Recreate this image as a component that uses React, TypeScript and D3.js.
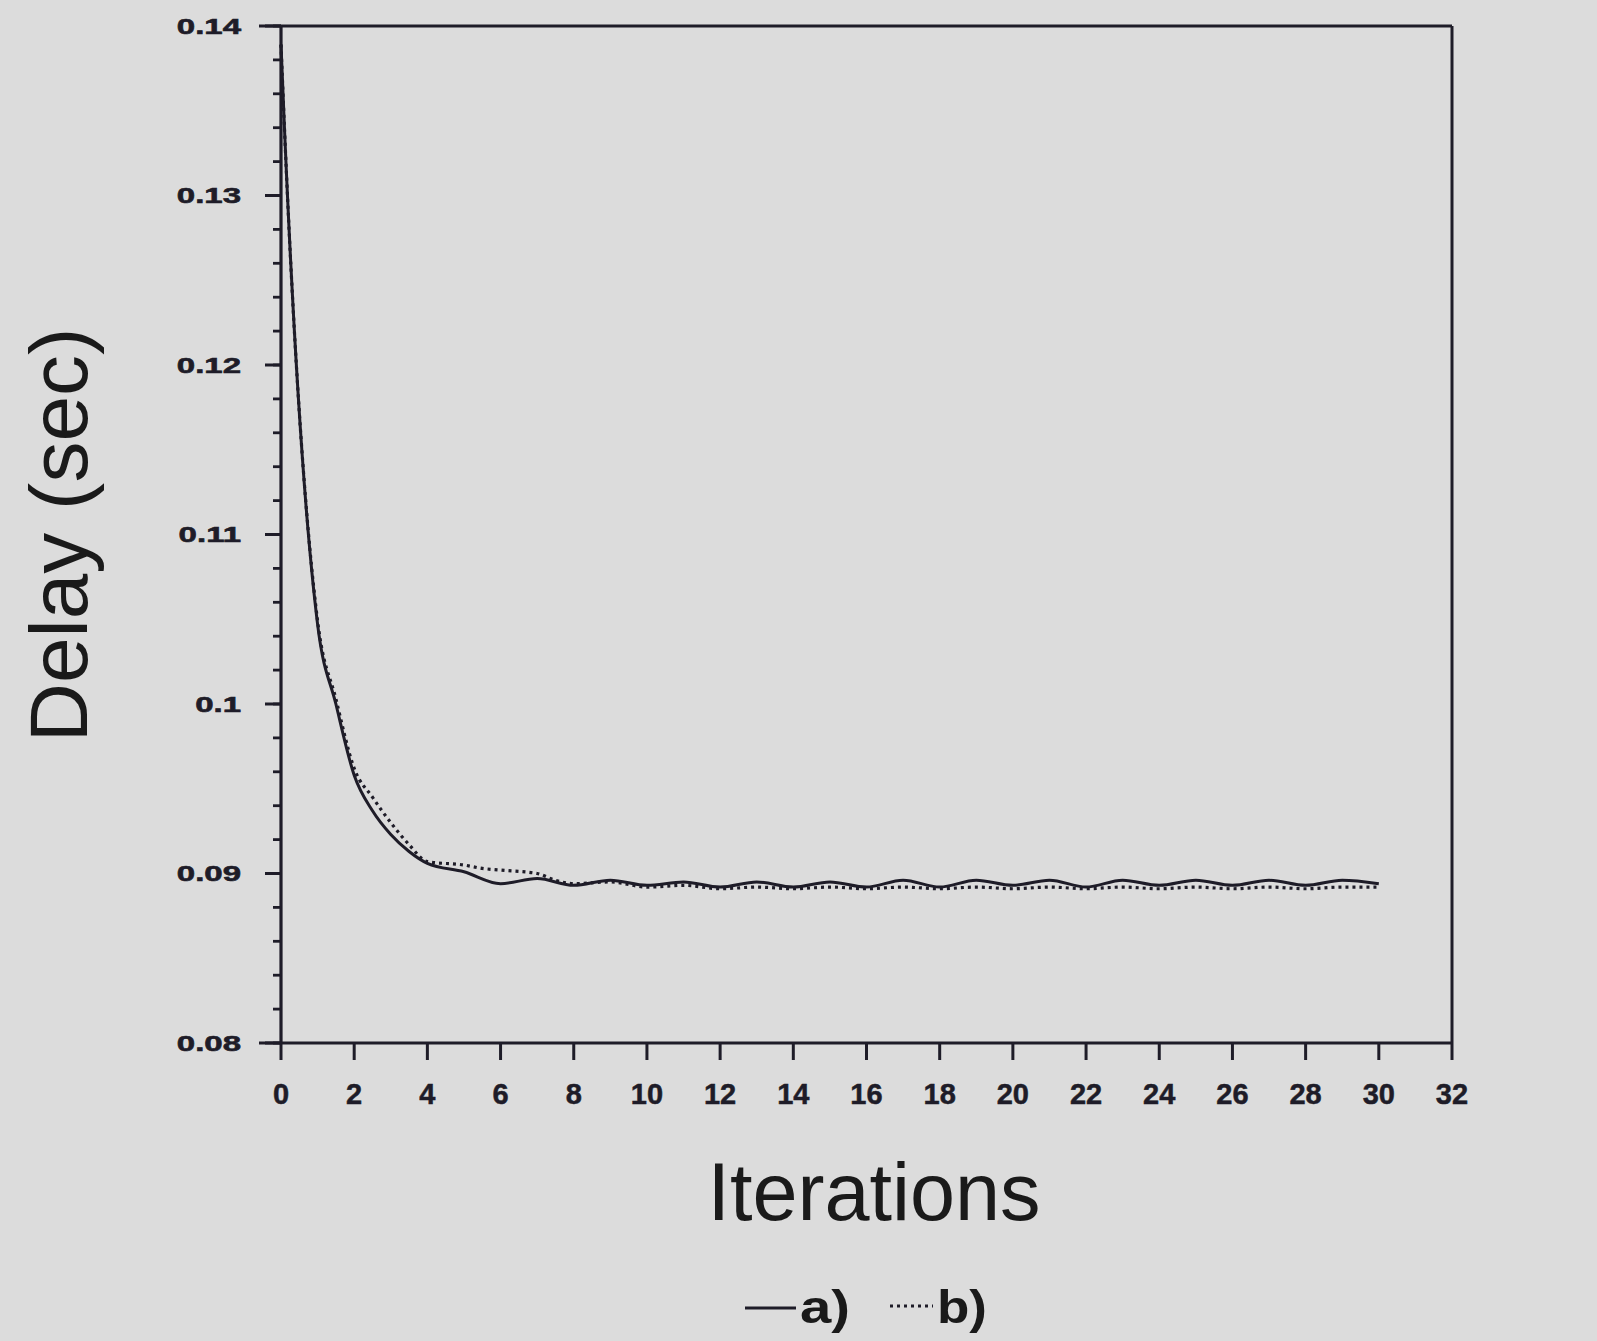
import React from 'react';
import * as d3 from 'd3';

// Series a) solid
const iterA = [0, 0.1, 1, 1.5, 2, 2.5, 3, 3.5, 4, 5, 6, 7, 8, 9, 10, 11, 12, 13, 14, 15, 16, 17, 18, 19, 20, 21, 22, 23, 24, 25, 26, 27, 28, 29, 30];
const delayA = [0.1389, 0.1337, 0.1047, 0.1, 0.0958, 0.0937, 0.0923, 0.0913, 0.0906, 0.0901, 0.0894, 0.0897, 0.0893, 0.0896, 0.0893, 0.0895, 0.0892, 0.0895, 0.0892, 0.0895, 0.0892, 0.0896, 0.0892, 0.0896, 0.0893, 0.0896, 0.0892, 0.0896, 0.0893, 0.0896, 0.0893, 0.0896, 0.0893, 0.0896, 0.0894];

// Series b) dotted
const iterB = [0, 0.1, 1, 1.5, 2, 2.5, 3, 3.5, 4, 5, 5.5, 6, 7, 7.5, 8, 9, 10, 11, 12, 13, 14, 15, 16, 17, 18, 19, 20, 21, 22, 23, 24, 25, 26, 27, 28, 29, 30];
const delayB = [0.1389, 0.1337, 0.1049, 0.1003, 0.0962, 0.0945, 0.093, 0.0917, 0.0907, 0.0905, 0.0903, 0.0902, 0.09, 0.0896, 0.0894, 0.0895, 0.0892, 0.0893, 0.0891, 0.0892, 0.0891, 0.0892, 0.0891, 0.0892, 0.0891, 0.0892, 0.0891, 0.0892, 0.0891, 0.0892, 0.0891, 0.0892, 0.0891, 0.0892, 0.0891, 0.0892, 0.0892];

const xTickValues = [0, 2, 4, 6, 8, 10, 12, 14, 16, 18, 20, 22, 24, 26, 28, 30, 32];
const yTickValues = [0.08, 0.09, 0.1, 0.11, 0.12, 0.13, 0.14];
const yTickLabels = ['0.08', '0.09', '0.1', '0.11', '0.12', '0.13', '0.14'];
const legendLabels = ['a)', 'b)'];

const W = 1597;
const H = 1341;
const INK = '#1e1c28';
const BG = '#dcdcdc';

export default function App() {
  const x = d3.scaleLinear().domain([0, 32]).range([281, 1452]);
  const y = d3.scaleLinear().domain([0.08, 0.14]).range([1043, 26]);

  const line = d3
    .line<[number, number]>()
    .x((d) => x(d[0]))
    .y((d) => y(d[1]))
    .curve(d3.curveMonotoneX);

  const dataA: [number, number][] = iterA.map((v, i) => [v, delayA[i]]);
  const dataB: [number, number][] = iterB.map((v, i) => [v, delayB[i]]);

  const minor = d3.range(0, 31).map((i) => 0.08 + i * 0.002);

  const x0 = x(0);
  const x1 = x(32);
  const yTop = y(0.14);
  const yBot = y(0.08);

  return (
    <svg
      width={W}
      height={H}
      style={{ position: 'absolute', left: 0, top: 0, background: BG }}
      fontFamily="'Liberation Sans', Arial, sans-serif"
    >
      <rect x={0} y={0} width={W} height={H} fill={BG} />
      {/* frame */}
      <line x1={x0 - 22} x2={x1} y1={yTop} y2={yTop} stroke={INK} strokeWidth={3} />
      <line x1={x1} x2={x1} y1={yTop} y2={yBot} stroke={INK} strokeWidth={3} />
      <line x1={x0} x2={x0} y1={yTop} y2={yBot} stroke={INK} strokeWidth={3.2} />
      <line x1={x0 - 22} x2={x1} y1={yBot} y2={yBot} stroke={INK} strokeWidth={3.2} />

      {/* y minor ticks */}
      {minor.map((v, i) => (
        <line key={'m' + i} x1={x0 - 8} x2={x0} y1={y(v)} y2={y(v)} stroke={INK} strokeWidth={2.8} />
      ))}
      {/* y major ticks + labels */}
      {yTickValues.map((v, i) => (
        <g key={'y' + i}>
          <line x1={x0 - 16} x2={x0} y1={y(v)} y2={y(v)} stroke={INK} strokeWidth={3} />
          <g transform={`translate(241, ${y(v)}) scale(1.5, 1)`}>
            <text
              textAnchor="end"
              dy="0.36em"
              fontSize={22}
              fontWeight="bold"
              fill={INK}
              stroke={INK}
              strokeWidth={0.6}
            >
              {yTickLabels[i]}
            </text>
          </g>
        </g>
      ))}

      {/* x ticks + labels */}
      {xTickValues.map((v, i) => (
        <g key={'x' + i}>
          <line x1={x(v)} x2={x(v)} y1={yBot} y2={yBot + 17} stroke={INK} strokeWidth={3} />
          <text
            x={x(v)}
            y={1104}
            textAnchor="middle"
            fontSize={29}
            fontWeight="bold"
            fill={INK}
            stroke={INK}
            strokeWidth={0.5}
          >
            {v}
          </text>
        </g>
      ))}

      {/* series */}
      <path d={line(dataB) || ''} fill="none" stroke={INK} strokeWidth={3.2} strokeDasharray="3 4" />
      <path d={line(dataA) || ''} fill="none" stroke={INK} strokeWidth={3} />

      {/* axis titles */}
      <text x={874} y={1220} textAnchor="middle" fontSize={81} fill="#1a1a1a">
        Iterations
      </text>
      <text
        transform={`translate(87, 535) rotate(-90)`}
        textAnchor="middle"
        fontSize={82}
        fill="#1a1a1a"
      >
        Delay (sec)
      </text>

      {/* legend */}
      <line x1={745} x2={796} y1={1308} y2={1308} stroke={INK} strokeWidth={3.2} />
      <text x={800} y={1323} fontSize={46} fontWeight="bold" fill="#1a1a1a" textLength={50} lengthAdjust="spacingAndGlyphs">
        {legendLabels[0]}
      </text>
      <line x1={890} x2={933} y1={1306} y2={1306} stroke={INK} strokeWidth={3.2} strokeDasharray="3 4" />
      <text x={937} y={1323} fontSize={46} fontWeight="bold" fill="#1a1a1a" textLength={50} lengthAdjust="spacingAndGlyphs">
        {legendLabels[1]}
      </text>
    </svg>
  );
}
